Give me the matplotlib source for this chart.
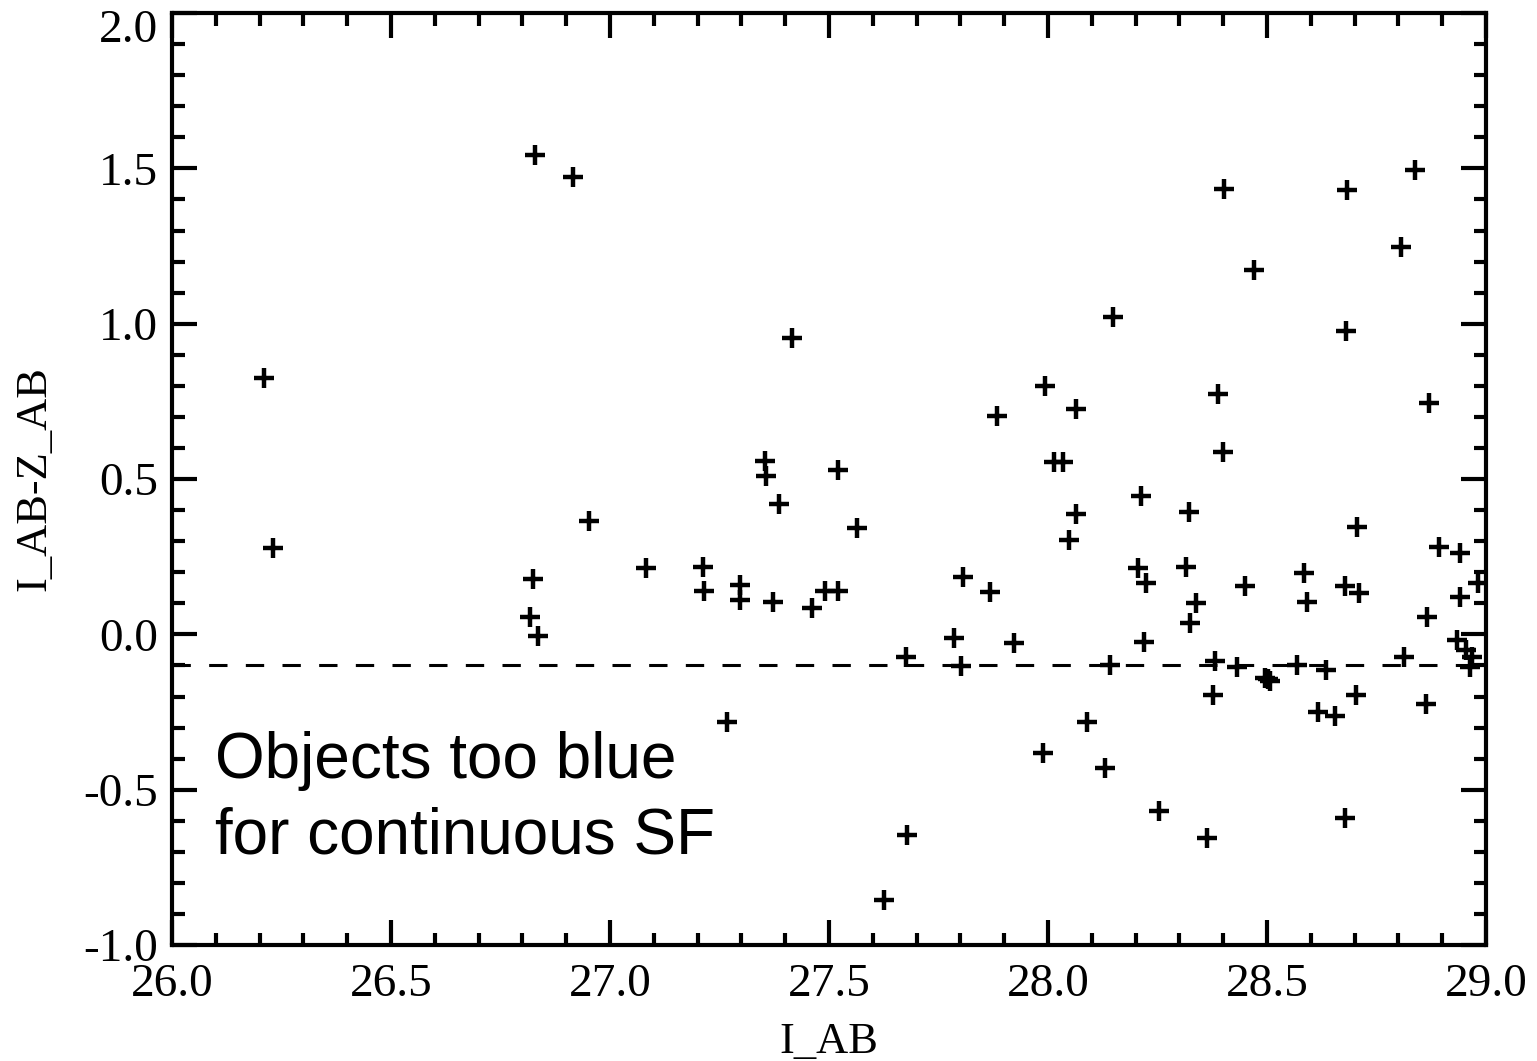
import matplotlib
matplotlib.use("Agg")
import matplotlib.pyplot as plt
from matplotlib.ticker import MultipleLocator
from matplotlib.transforms import ScaledTranslation

i_ab = [26.21, 26.231, 26.829, 26.916, 26.824, 26.817, 26.836, 26.952, 27.082, 27.212,
        27.215, 27.297, 27.297, 27.372, 27.267, 27.354, 27.356, 27.386, 27.416, 27.521,
        27.564, 27.461, 27.491, 27.521, 27.626, 27.678, 27.676, 27.785, 27.801, 27.806,
        27.868, 27.884, 27.922, 27.993, 27.989, 28.014, 28.034, 28.064, 28.064, 28.048,
        28.089, 28.13, 28.148, 28.142, 28.212, 28.205, 28.224, 28.219, 28.253, 28.322,
        28.315, 28.338, 28.324, 28.402, 28.388, 28.4, 28.381, 28.377, 28.363, 28.47,
        28.45, 28.432, 28.495, 28.502, 28.507, 28.584, 28.591, 28.568, 28.683, 28.68,
        28.705, 28.678, 28.71, 28.703, 28.678, 28.838, 28.806, 28.813, 28.87, 28.893,
        28.941, 28.941, 28.865, 28.863, 28.982, 28.934, 28.954, 28.968, 28.963, 28.616,
        28.655, 28.635]
iz_ab = [0.825, 0.278, 1.543, 1.472, 0.178, 0.056, -0.005, 0.365, 0.214, 0.217,
         0.14, 0.159, 0.111, 0.104, -0.282, 0.558, 0.51, 0.42, 0.954, 0.529,
         0.342, 0.085, 0.14, 0.14, -0.855, -0.645, -0.073, -0.012, -0.102, 0.185,
         0.136, 0.703, -0.028, 0.80, -0.382, 0.555, 0.555, 0.725, 0.388, 0.304,
         -0.282, -0.43, 1.022, -0.098, 0.445, 0.214, 0.165, -0.024, -0.568, 0.394,
         0.217, 0.101, 0.037, 1.433, 0.773, 0.587, -0.086, -0.195, -0.655, 1.173,
         0.156, -0.105, -0.14, -0.145, -0.15, 0.198, 0.104, -0.098, 1.43, 0.977,
         0.346, 0.156, 0.134, -0.195, -0.59, 1.494, 1.248, -0.073, 0.745, 0.281,
         0.262, 0.12, 0.056, -0.224, 0.165, -0.018, -0.05, -0.073, -0.105, -0.25,
         -0.262, -0.115]

threshold = -0.1
x_ticks = [26.0, 26.5, 27.0, 27.5, 28.0, 28.5, 29.0]
y_ticks = [-1.0, -0.5, 0.0, 0.5, 1.0, 1.5, 2.0]

serif = ["Liberation Serif", "DejaVu Serif"]
sans = ["Liberation Sans", "DejaVu Sans"]

fig = plt.figure(figsize=(15.37, 10.61), dpi=100)
ax = fig.add_axes([0.1119, 0.1093, 0.8549, 0.8784])

ax.plot(i_ab, iz_ab, linestyle="none", marker="+", color="black",
        markersize=15, markeredgewidth=3.2)
ax.axhline(threshold, color="black", linewidth=2.2, linestyle=(0, (6, 6)))

ax.set_xlim(26.0, 29.0)
ax.set_ylim(-1.0, 2.0)
ax.set_xticks(x_ticks)
ax.set_yticks(y_ticks)
ax.set_xticklabels([f"{v:.1f}" for v in x_ticks], fontfamily=serif, fontsize=34)
ax.set_yticklabels([f"{v:.1f}" for v in y_ticks], fontfamily=serif, fontsize=34)
ax.xaxis.set_minor_locator(MultipleLocator(0.1))
ax.yaxis.set_minor_locator(MultipleLocator(0.1))
ax.tick_params(which="both", direction="in", top=True, right=True, width=3, color="black")
ax.tick_params(which="major", length=18)
ax.tick_params(which="minor", length=9)
ax.tick_params(axis="x", which="major", pad=13)
ax.tick_params(axis="y", which="major", pad=10)
for s in ax.spines.values():
    s.set_linewidth(3)

# keep the top y label inside the figure (shifted down as in the reference)
top_lbl = ax.get_yticklabels()[-1]
top_lbl.set_transform(top_lbl.get_transform() + ScaledTranslation(0, -0.13, fig.dpi_scale_trans))

ax.set_xlabel("I_AB", fontfamily=serif, fontsize=32, labelpad=12)
ax.set_ylabel("I_AB-Z_AB", fontfamily=serif, fontsize=32, labelpad=21)

ax.text(26.098, -0.462, "Objects too blue", fontfamily=sans, fontsize=46,
        va="baseline", ha="left")
ax.text(26.098, -0.704, "for continuous SF", fontfamily=sans, fontsize=46,
        va="baseline", ha="left")

fig.savefig("out.png", dpi=100)
